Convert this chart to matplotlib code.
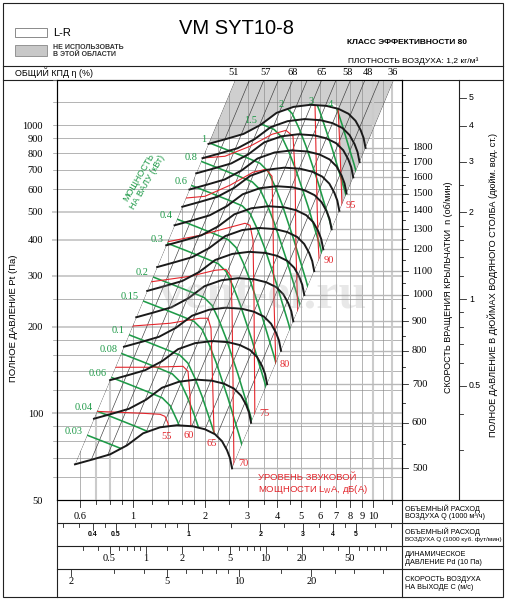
import numpy as np
import matplotlib.pyplot as plt
from matplotlib import transforms
from matplotlib.patches import Polygon, Rectangle
from matplotlib.path import Path

plt.rcParams['font.family'] = ['Liberation Sans', 'DejaVu Sans']
plt.rcParams['mathtext.fontset'] = 'custom'
plt.rcParams['mathtext.rm'] = 'Liberation Sans'
SERIF = ['Liberation Serif', 'DejaVu Serif']

# ---- values ----
# fan curve at the lowest speed, Q in 1000 m3/h, Pt in Pa
fan_q = [0.573, 0.681, 0.802, 0.944, 1.101, 1.296, 1.525, 1.778, 1.995, 2.196, 2.349, 2.465, 2.537, 2.586]
fan_p = [66.5, 69.2, 72.0, 77.4, 85.2, 89.4, 90.9, 90.1, 88.0, 84.6, 80.0, 74.4, 69.8, 64.4]
fan_rpm0 = 500
rpm_values = [500, 600, 700, 800, 900, 1000, 1100, 1200, 1300, 1400, 1500, 1600, 1700, 1800]

# shaft power line read at 0.1 kW
pw_q = [0.883, 0.953, 1.155, 1.399, 1.570, 1.695, 1.813, 1.939, 2.054, 2.175, 2.304, 2.442, 2.586]
pw_p = [192.7, 187.9, 176.5, 165.6, 159.0, 149.2, 132.3, 114.6, 99.2, 85.9, 73.2, 62.4, 52.3]
pw_kw0 = 0.1
power_kw = [0.03, 0.04, 0.06, 0.08, 0.1, 0.15, 0.2, 0.3, 0.4, 0.6, 0.8, 1, 1.5, 2, 3, 4]

# sound power lines dB(A)
noise_db = ['55', '60', '65', '70', '75', '80', '', '90', '95']
noise_q = [
    [0.694, 1.101, 1.296, 1.359, 1.399, 1.412, 1.42],
    [0.80, 1.177, 1.616, 1.695, 1.728, 1.745, 1.75],
    [0.96, 1.426, 1.902, 2.054, 2.113, 2.134, 2.175, 2.18],
    [1.15, 1.728, 2.196, 2.440, 2.561, 2.586, 2.610, 2.635],
    [1.36, 1.902, 2.537, 2.929, 3.073, 3.162, 3.193, 3.22],
    [1.62, 1.995, 2.537, 3.162, 3.583, 3.795, 3.831, 3.868, 3.943],
    [1.90, 2.416, 3.073, 3.795, 4.340, 4.642, 4.732, 4.777, 4.870],
    [4.964, 5.569, 5.731, 5.786, 5.843, 5.900, 6.015],
    [6.620, 7.149, 7.287, 7.428, 7.571],
]
noise_p = [
    [101.6, 100, 99.2, 97.6, 92.3, 85.9, 80],
    [144.5, 144.5, 145.6, 139.9, 115.5, 85.9, 78],
    [200.5, 205.4, 213.8, 213.8, 197.3, 152.8, 85.9, 78],
    [285.0, 299.0, 313.7, 316.2, 299.0, 227.9, 130.2, 63.4],
    [392.5, 415.0, 442.4, 456.8, 449.5, 398.7, 246.9, 93.0],
    [557.9, 566.9, 619.2, 686.9, 703.5, 665.3, 467.9, 246.9, 141.0],
    [768.2, 780.6, 845.6, 930.6, 960.4, 915.8, 698.0, 368.1, 210.4],
    [1261, 1251, 1202, 818.9, 549.0, 398.7, 301.4],
    [1202, 1164, 818.9, 527.6, 467.9],
]

eff_labels = ['51', '57', '68', '65', '58', '48', '36']
eff_q = [2.635, 3.58, 4.64, 6.13, 7.80, 9.53, 12.13]
n_diag = 12

pa_labels = [50, 100, 200, 300, 400, 500, 600, 700, 800, 900, 1000]
pa_light = [100, 200, 300, 400, 500]
pa_thin = [60, 70, 80, 90, 120, 140, 160, 180, 250, 600, 700, 800, 900, 1000, 1200]
q_grid = [0.6, 0.7, 0.8, 0.9, 1, 1.2, 1.4, 1.6, 1.8, 2, 2.25, 2.5, 3, 3.5, 4, 4.5, 5, 6, 7, 8, 9, 10, 11, 12]
q_grid_light = [0.7, 0.8, 10, 12]

q_labels = [0.6, 1, 2, 3, 4, 5, 6, 7, 8, 9, 10]
q_minor = [0.7, 0.8, 0.9, 1.2, 1.4, 1.6, 1.8, 2.5, 3.5, 4.5, 12]
cfm_labels = [0.4, 0.5, 1, 2, 3, 4, 5]
cfm_minor = [0.3, 0.35, 0.45, 0.6, 0.7, 0.8, 0.9, 1.5, 2.5, 3.5, 4.5, 6, 7]
pd_labels = [0.5, 1, 2, 5, 10, 20, 50]
pd_minor = [0.3, 0.4, 0.6, 0.7, 0.8, 0.9, 1.5, 3, 4, 6, 7, 8, 9, 15, 30, 40, 60, 70, 80, 90, 100]
c_labels = [2, 5, 10, 20]
c_minor = [3, 4, 6, 7, 8, 9, 15, 25, 30, 40]
inch_labels = [0.5, 1, 2, 3, 4, 5]
inch_minor = [0.3, 0.4, 0.6, 0.7, 0.8, 0.9, 1.2, 1.4, 1.6, 1.8, 2.5]

cfm_to_q = 1.699     # 1000 cfm in 1000 m3/h
c_to_q = 0.2765      # outlet velocity 1 m/s in 1000 m3/h
rho = 1.2
inch_to_pa = 249.1

BLACK = '#1a1a1a'
GREEN = '#1f9a48'
RED = '#e3262c'
GRID = '#8a8a8a'
LIGHT = '#cbcbcb'


def lg(a):
    return np.log10(np.asarray(a, float))


def q_on(k, p):
    return 10 ** ((np.log10(p) - k) / 2)


def fan(n):
    s = n / fan_rpm0
    return np.array(fan_q) * s, np.array(fan_p) * s ** 2


def power(w):
    s = (w / pw_kw0) ** (1 / 3)
    return np.array(pw_q) * s, np.array(pw_p) * s ** 2


def dense(q, p, n=400):
    t = np.linspace(0, len(q) - 1, n)
    i = np.arange(len(q))
    return np.column_stack([np.interp(t, i, lg(q)), np.interp(t, i, lg(p))])


fig = plt.figure(figsize=(5.10, 6.02), dpi=100)
bg = fig.add_axes([0, 0, 1, 1])
bg.set_xlim(0, 510)
bg.set_ylim(602, 0)
bg.axis('off')

ax = fig.add_axes([57 / 510, 1 - 500 / 602, 345 / 510, 420.5 / 602])
ax.set_xscale('log')
ax.set_yscale('log')
ax.set_xlim(0.4822, 13.21)
ax.set_ylim(50, 1442)
ax.patch.set_visible(False)
ax.set_xticks([])
ax.xaxis.set_minor_locator(plt.NullLocator())
ax.yaxis.set_minor_locator(plt.NullLocator())
ax.set_yticks(pa_labels)
ax.set_yticklabels([str(v) for v in pa_labels])
ax.tick_params(axis='y', length=0, pad=10, labelsize=7.5)
for lab in ax.get_yticklabels():
    lab.set_family(SERIF)
for sp in ax.spines.values():
    sp.set_linewidth(0.8)

trans_r = transforms.blended_transform_factory(bg.transData, ax.transData)
trans_b = transforms.blended_transform_factory(ax.transData, bg.transData)


def ftext(x, y, s, **kw):
    return ax.text(x, y, s, transform=bg.transData, clip_on=False, **kw)


# ---- frame of the sheet ----
frame = dict(color='#222222', lw=0.8)
bg.add_patch(Rectangle((3, 3), 500, 594, fill=False, ec='#222222', lw=0.8))
bg.plot([3, 503], [66, 66], **frame)
bg.plot([3, 503], [79.5, 79.5], **frame)
bg.plot([57, 57], [79.5, 597], **frame)
bg.plot([402, 402], [79.5, 597], **frame)
bg.plot([459, 459], [79.5, 500], **frame)
for yy in [500, 523, 546, 569]:
    bg.plot([57, 503], [yy, yy], **frame)

# ---- header ----
bg.add_patch(Rectangle((15, 28), 32, 9, fc='white', ec='#777777', lw=0.6))
bg.add_patch(Rectangle((15, 45), 32, 11, fc='#c8c8c8', ec='#888888', lw=0.6))
ftext(53, 32.5, 'L-R', fontsize=8, va='center')
ftext(53, 47.5, 'НЕ ИСПОЛЬЗОВАТЬ', fontsize=5, weight='bold', va='center', color='#333333')
ftext(53, 54.5, 'В ЭТОЙ ОБЛАСТИ', fontsize=5, weight='bold', va='center', color='#333333')
ftext(237, 29, 'VM SYT10-8', fontsize=14.5, ha='center', va='center')
ftext(347, 42.5, 'КЛАСС ЭФФЕКТИВНОСТИ 80', fontsize=6, weight='bold', va='center')
ftext(348, 61.5, 'ПЛОТНОСТЬ ВОЗДУХА: 1,2 кг/м³', fontsize=6, va='center')
ftext(15, 72.5, 'ОБЩИЙ КПД η (%)', fontsize=6.4, va='center')
for q, s in zip(eff_q, eff_labels):
    ax.text(q, 72.8, s, transform=trans_b, clip_on=False, fontsize=7.5,
            family=SERIF, ha='center', va='center')

# ---- boundaries of the working field ----
q_lo, p_lo = fan(rpm_values[0])
q_hi, p_hi = fan(rpm_values[-1])
k_L = lg(fan_p[0]) - 2 * lg(fan_q[0])
k_R = lg(fan_p[-1]) - 2 * lg(fan_q[-1])
P_TOP = 1700

region_xy = np.vstack([np.column_stack([q_hi, p_hi]), np.column_stack([q_lo, p_lo])[::-1]])
region_clip = Polygon(region_xy, closed=True, transform=ax.transData)
region_log = Path(np.vstack([np.log10(region_xy), np.log10(region_xy[:1])]), closed=True)

band_xy = np.vstack([np.column_stack([q_lo, p_lo]),
                     [[q_on(k_R, P_TOP), P_TOP], [q_on(k_L, P_TOP), P_TOP]]])
band_clip = Polygon(band_xy, closed=True, transform=ax.transData)

vclip = Polygon([[q_on(k_L, 40), 40], [q_on(k_L, P_TOP), P_TOP], [30, P_TOP], [30, 40]],
                closed=True, transform=ax.transData)

# shaded "do not use" field: above top speed and beyond the last noise line
n95_q, n95_p = noise_q[-1], noise_p[-1]
top_keep = q_hi < n95_q[0]
gray_xy = np.vstack([
    [[q_on(k_L, P_TOP), P_TOP], [q_on(k_R, P_TOP), P_TOP], [40, 300]],
    np.column_stack([n95_q, n95_p])[::-1],
    np.column_stack([q_hi[top_keep], p_hi[top_keep]])[::-1],
])
gray = Polygon(gray_xy, closed=True, fc='#cfcfcf', ec='none', transform=ax.transData, zorder=0.5)
ax.add_patch(gray)
gray.set_clip_path(band_clip)

# ---- grid ----
for p in pa_thin:
    ax.axhline(p, xmin=-4 / 345, xmax=1, color=GRID, lw=0.45, clip_on=False, zorder=1)
for p in pa_light:
    ax.axhline(p, xmin=-4 / 345, xmax=1, color=LIGHT, lw=1.4, clip_on=False, zorder=1)
ax.axhline(1442, xmin=-4 / 345, xmax=0, color=GRID, lw=0.5, clip_on=False)
for q in q_grid:
    ln = ax.axvline(q, color=GRID, lw=0.45, zorder=1)
    ln.set_clip_path(vclip)
for q in q_grid_light:
    ln = ax.axvline(q, color=LIGHT, lw=1.5, zorder=1)
    ln.set_clip_path(vclip)
for n in rpm_values:
    s = n / fan_rpm0
    ax.plot([fan_q[-1] * s, 20], [fan_p[-1] * s * s] * 2, color='#b8b8b8', lw=1.0, zorder=1)

# system lines (efficiency rays)
for k in np.linspace(k_L, k_R, n_diag):
    pp = np.array([30, 3000])
    ln, = ax.plot(q_on(k, pp), pp, color='#3a3a3a', lw=0.45, zorder=1.5)
    ln.set_clip_path(band_clip)

# ---- power lines ----
for w in power_kw:
    q, p = power(w)
    ln, = ax.plot(q, p, color=GREEN, lw=1.15, zorder=2.2, solid_joinstyle='round')
    ln.set_clip_path(region_clip)
    pts = dense(q, p)
    inside = np.flatnonzero(region_log.contains_points(pts))
    if len(inside):
        x0, y0 = 10 ** pts[inside[0]]
        ax.annotate(f'{w:g}', (x0, y0), xytext=(-3, 3), textcoords='offset points',
                    ha='right', va='center', color=GREEN, fontsize=7.5, family=SERIF, zorder=5)

# ---- noise lines ----
for q, p, tag in zip(noise_q, noise_p, noise_db):
    ln, = ax.plot(q, p, color=RED, lw=0.8, zorder=2.4, solid_joinstyle='round')
    ln.set_clip_path(region_clip)
    if not tag:
        continue
    pts = dense(q, p)
    inside = np.flatnonzero(region_log.contains_points(pts))
    lq, lp = pts[inside[-1]]
    x0, y0 = 10 ** lq, 10 ** lp
    if (lp - 2 * lq) - k_R < 0.05:
        ax.annotate(tag, (x0, y0), xytext=(3, -1), textcoords='offset points', ha='left',
                    va='center', color=RED, fontsize=7.5, family=SERIF, zorder=5)
    else:
        ax.annotate(tag, (x0, y0), xytext=(-1.5, -7), textcoords='offset points', ha='center',
                    va='center', color=RED, fontsize=7.5, family=SERIF, zorder=5)

# ---- fan curves ----
for n in rpm_values:
    q, p = fan(n)
    ax.plot(q, p, color=BLACK, lw=1.4, zorder=2.6, solid_joinstyle='round')

ftext(143, 180, 'МОЩНОСТЬ\nНА ВАЛУ (кВт)', rotation=60, rotation_mode='anchor',
      ha='center', va='center', color=GREEN, fontsize=6.5, linespacing=1.15, zorder=6)
ftext(258, 478, 'УРОВЕНЬ ЗВУКОВОЙ', color=RED, fontsize=6.8, va='center', zorder=6)
ftext(258, 489.5, r'МОЩНОСТИ L$_\mathregular{W}$A, дБ(A)', color=RED, fontsize=6.8,
      va='center', zorder=6)
ftext(263, 296, 'vent-el.ru', fontsize=36, weight='bold', family=SERIF, color='#9a9a9a',
      alpha=0.22, ha='center', va='center', zorder=7)

# ---- axis titles ----
ftext(14, 318, 'ПОЛНОЕ ДАВЛЕНИЕ Pt (Па)', rotation=90, ha='center', va='center', fontsize=6.8)
ftext(449, 287, 'СКОРОСТЬ ВРАЩЕНИЯ КРЫЛЬЧАТКИ  n (об/мин)', rotation=90,
      ha='center', va='center', fontsize=6.5)
ftext(493, 285, 'ПОЛНОЕ ДАВЛЕНИЕ В ДЮЙМАХ ВОДЯНОГО СТОЛБА (дюйм. вод. ст.)', rotation=90,
      ha='center', va='center', fontsize=6.6)

# ---- rpm scale ----
tk = dict(color='#222222', lw=0.6, clip_on=False)
for n in rpm_values:
    p_end = fan_p[-1] * (n / fan_rpm0) ** 2
    ax.plot([402, 408], [p_end, p_end], transform=trans_r, **tk)
    ax.text(412, p_end, str(n), transform=trans_r, clip_on=False, fontsize=7.5,
            family=SERIF, va='center', ha='left')
    if n < rpm_values[-1]:
        pm = fan_p[-1] * ((n + 50) / fan_rpm0) ** 2
        ax.plot([402, 405], [pm, pm], transform=trans_r, **tk)

# ---- inch water column scale ----
for v in inch_labels:
    pv = v * inch_to_pa
    ax.plot([459, 466], [pv, pv], transform=trans_r, **tk)
    ax.text(469, pv, f'{v:g}', transform=trans_r, clip_on=False, fontsize=6.3,
            va='center', ha='left')
for v in inch_minor:
    pv = v * inch_to_pa
    ax.plot([459, 463.5], [pv, pv], transform=trans_r, **tk)

# ---- lower scales ----
def q_from_pd(v):
    return c_to_q * np.sqrt(2 * 10 * np.asarray(v, float) / rho)


def scale_row(q_major, labels, q_min, y0, ylab, **font):
    for q in q_major:
        ax.plot([q, q], [y0, y0 + 6.5], transform=trans_b, **tk)
    for q in q_min:
        ax.plot([q, q], [y0, y0 + 3.8], transform=trans_b, **tk)
    for q, s in zip(q_major, labels):
        ax.text(q, ylab, s, transform=trans_b, clip_on=False, ha='center', va='center', **font)


serif_font = dict(fontsize=7.5, family=SERIF)
scale_row(q_labels, [f'{v:g}' for v in q_labels], q_minor, 500, 516.5, **serif_font)
scale_row(np.array(cfm_labels) * cfm_to_q, [f'{v:g}' for v in cfm_labels],
          np.array(cfm_minor) * cfm_to_q, 523, 535, fontsize=5, weight='bold')
scale_row(q_from_pd(pd_labels), [f'{v:g}' for v in pd_labels], q_from_pd(pd_minor),
          546, 558.5, **serif_font)
scale_row(np.array(c_labels) * c_to_q, [f'{v:g}' for v in c_labels],
          np.array(c_minor) * c_to_q, 569, 582, **serif_font)

row_titles = [
    ('ОБЪЕМНЫЙ РАСХОД', 'ВОЗДУХА Q (1000 м³/ч)', 508.3, 516.3),
    ('ОБЪЕМНЫЙ РАСХОД', 'ВОЗДУХА Q (1000 куб. фут/мин)', 531.8, 539.8),
    ('ДИНАМИЧЕСКОЕ', 'ДАВЛЕНИЕ Pd (10 Па)', 554.3, 562.0),
    ('СКОРОСТЬ ВОЗДУХА', 'НА ВЫХОДЕ C (м/с)', 579.3, 587.7),
]
for a, b, ya, yb in row_titles:
    ftext(405, ya, a, fontsize=5.2, va='center')
    ftext(405, yb, b, fontsize=5.2 if len(b) < 25 else 4.6, va='center')

fig.savefig('out.png', dpi=100, facecolor='white')
